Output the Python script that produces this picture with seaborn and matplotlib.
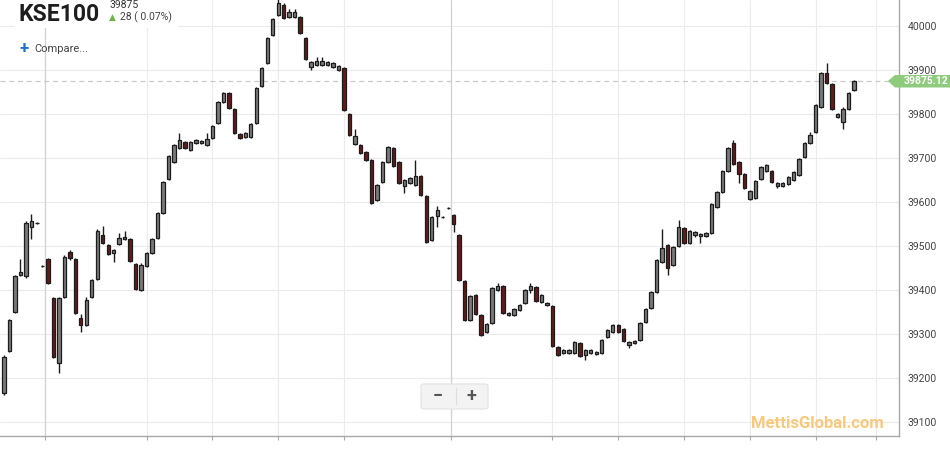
"""KSE100 intraday 5-minute candlestick chart (7/11 - 7/12)."""

import matplotlib

matplotlib.use("Agg")
import matplotlib.pyplot as plt
import numpy as np
import pandas as pd
import seaborn as sns
from matplotlib.patches import FancyBboxPatch, Polygon, Rectangle

# --- data ---------------------------------------------------------------
opens = [
    39166, 39261, 39350, 39434, 39432, 39543, 39552, 39454, 39470, 39382,
    39234, 39384, 39486, 39470, 39336, 39320, 39384, 39425, 39525, 39502,
    39484, 39504, 39516, 39516, 39459, 39400, 39454, 39484, 39518, 39575,
    39652, 39691, 39723, 39736, 39718, 39734, 39734, 39729, 39745, 39779,
    39827, 39848, 39811, 39754, 39748, 39748, 39779, 39864, 39916, 39979,
    40025, 40048, 40020, 40020, 40020, 39973, 39907, 39911, 39911, 39911,
    39907, 39900, 39904, 39800, 39732, 39729, 39714, 39695, 39604, 39645,
    39691, 39723, 39691, 39636, 39643, 39639, 39659, 39614, 39514, 39568,
    39566, 39586, 39570, 39525, 39420, 39332, 39388, 39343, 39304, 39325,
    39400, 39409, 39343, 39343, 39354, 39370, 39400, 39407, 39373, 39366,
    39363, 39270, 39257, 39257, 39257, 39279, 39252, 39257, 39254, 39257,
    39293, 39304, 39320, 39311, 39275, 39279, 39286, 39327, 39359, 39395,
    39464, 39502, 39457, 39500, 39541, 39507, 39525, 39523, 39523, 39529,
    39589, 39623, 39670, 39734, 39691, 39664, 39607, 39609, 39652, 39670,
    39670, 39636, 39636, 39641, 39650, 39661, 39702, 39734, 39759, 39816,
    39893, 39868, 39793, 39782, 39811, 39855,
]
highs = [
    39252, 39334, 39434, 39470, 39557, 39573, 39555, 39456, 39473, 39384,
    39384, 39479, 39491, 39472, 39345, 39384, 39425, 39538, 39545, 39504,
    39493, 39529, 39534, 39518, 39461, 39461, 39486, 39518, 39577, 39648,
    39706, 39731, 39757, 39738, 39738, 39743, 39740, 39757, 39775, 39829,
    39850, 39850, 39813, 39756, 39759, 39779, 39861, 39906, 39975, 40018,
    40062, 40052, 40039, 40039, 40022, 39975, 39920, 39929, 39929, 39920,
    39918, 39911, 39906, 39802, 39766, 39731, 39716, 39697, 39641, 39693,
    39727, 39725, 39693, 39652, 39656, 39695, 39661, 39616, 39568, 39591,
    39568, 39588, 39572, 39527, 39422, 39388, 39390, 39345, 39325, 39406,
    39416, 39411, 39350, 39359, 39368, 39402, 39416, 39409, 39390, 39372,
    39365, 39272, 39265, 39265, 39284, 39281, 39265, 39265, 39261, 39288,
    39311, 39322, 39322, 39313, 39284, 39286, 39327, 39359, 39397, 39470,
    39538, 39504, 39500, 39559, 39543, 39536, 39534, 39529, 39531, 39597,
    39625, 39672, 39725, 39741, 39693, 39666, 39627, 39650, 39681, 39686,
    39672, 39645, 39645, 39659, 39670, 39700, 39736, 39759, 39822, 39895,
    39916, 39870, 39802, 39816, 39850, 39877,
]
lows = [
    39161, 39259, 39348, 39432, 39427, 39516, 39550, 39452, 39413, 39245,
    39211, 39382, 39468, 39345, 39304, 39318, 39382, 39423, 39505, 39480,
    39464, 39502, 39514, 39463, 39400, 39398, 39452, 39482, 39516, 39573,
    39650, 39689, 39721, 39720, 39716, 39732, 39732, 39727, 39743, 39777,
    39825, 39812, 39755, 39743, 39746, 39746, 39777, 39862, 39914, 39977,
    40023, 40016, 40018, 40018, 39982, 39923, 39900, 39909, 39909, 39909,
    39905, 39898, 39807, 39750, 39730, 39709, 39693, 39596, 39602, 39643,
    39689, 39680, 39641, 39620, 39641, 39637, 39614, 39507, 39512, 39543,
    39564, 39584, 39532, 39421, 39330, 39330, 39343, 39296, 39302, 39323,
    39398, 39346, 39341, 39341, 39352, 39368, 39393, 39373, 39371, 39364,
    39271, 39250, 39255, 39255, 39255, 39248, 39241, 39255, 39252, 39255,
    39291, 39302, 39302, 39282, 39268, 39277, 39284, 39325, 39357, 39393,
    39462, 39434, 39455, 39498, 39505, 39505, 39520, 39507, 39521, 39527,
    39587, 39621, 39668, 39684, 39643, 39630, 39605, 39607, 39650, 39668,
    39643, 39632, 39634, 39639, 39648, 39659, 39700, 39732, 39757, 39814,
    39868, 39809, 39791, 39766, 39809, 39853,
]
closes = [
    39248, 39332, 39432, 39441, 39552, 39557, 39552, 39454, 39416, 39248,
    39382, 39475, 39473, 39348, 39320, 39377, 39423, 39534, 39507, 39482,
    39491, 39518, 39520, 39466, 39402, 39457, 39484, 39516, 39575, 39645,
    39704, 39729, 39741, 39723, 39736, 39741, 39738, 39743, 39773, 39827,
    39848, 39814, 39757, 39745, 39757, 39777, 39859, 39904, 39973, 40016,
    40052, 40018, 40032, 40032, 39984, 39925, 39918, 39920, 39920, 39918,
    39916, 39909, 39809, 39752, 39750, 39711, 39695, 39598, 39639, 39691,
    39725, 39682, 39643, 39650, 39654, 39659, 39616, 39509, 39566, 39582,
    39566, 39586, 39550, 39423, 39332, 39386, 39345, 39298, 39323, 39404,
    39409, 39348, 39348, 39357, 39366, 39400, 39409, 39375, 39388, 39370,
    39273, 39252, 39263, 39263, 39282, 39250, 39263, 39263, 39259, 39286,
    39309, 39320, 39304, 39284, 39282, 39284, 39325, 39357, 39395, 39468,
    39495, 39450, 39498, 39543, 39507, 39534, 39532, 39527, 39529, 39595,
    39623, 39670, 39723, 39686, 39664, 39632, 39625, 39648, 39679, 39684,
    39645, 39643, 39643, 39657, 39668, 39698, 39734, 39752, 39820, 39893,
    39870, 39811, 39800, 39811, 39848, 39875.12,
]

last_price = 39875.12
tick_slots = [7.5, 26, 38, 50, 62, 81.5, 100, 112, 124, 136, 148, 159]
tick_labels = ["7/11", "11:00", "12:00", "13:00", "14:00", "7/12",
               "11:00", "12:00", "13:00", "14:00", "15:00", "16:00"]
day_breaks = ["7/11", "7/12"]
price_ticks = list(range(39100, 40001, 100))

# --- style ---------------------------------------------------------------
sns.set_theme(style="whitegrid")
plt.rcParams["font.family"] = ["Roboto", "DejaVu Sans"]

frame = pd.DataFrame({"open": opens, "high": highs, "low": lows, "close": closes})
frame["slot"] = np.arange(len(frame))
frame["rising"] = frame["close"] >= frame["open"]

W, H = 950, 450
fig = plt.figure(figsize=(W / 100, H / 100), dpi=100)
fig.patch.set_facecolor("white")
ax = fig.add_axes([0, 14 / H, 899 / W, 436 / H])
ax.set_facecolor("white")


def px(x, y):
    """Figure pixel (from top-left) to figure fraction."""
    return x / W, 1 - y / H


# wicks and bodies
edge = "#1c1c1c"
ax.vlines(frame["slot"], frame["low"], frame["high"], color=edge, linewidth=1.0, zorder=3)
bottoms = frame[["open", "close"]].min(axis=1)
heights = (frame["close"] - frame["open"]).abs()
colors = np.where(frame["rising"], "#7a7a7a", "#621a1a")
ax.bar(frame["slot"], heights, bottom=bottoms, width=0.62, color=colors,
       edgecolor=edge, linewidth=0.9, zorder=4)

# last price line
ax.axhline(last_price, color="#c9c9c9", linestyle=(0, (4, 3)), linewidth=0.9, zorder=2)

ax.set_xlim(-0.73, 163.2)
ax.set_ylim(39068, 40059)

ax.set_xticks(tick_slots)
ax.set_xticklabels(tick_labels, fontsize=8, color="#555555")
ax.set_yticks(price_ticks)
ax.set_yticklabels([str(v) for v in price_ticks], fontsize=7.5, color="#444444")
ax.yaxis.tick_right()
ax.tick_params(axis="y", length=0, pad=6)
ax.tick_params(axis="x", length=3, width=0.8, color="#aaaaaa", pad=8, bottom=True)

ax.grid(True, color="#ebebeb", linewidth=0.8)
for slot, label in zip(tick_slots, tick_labels):
    if label in day_breaks:
        ax.axvline(slot, color="#d2d2d2", linewidth=0.9, zorder=1)

for side in ("left", "top"):
    ax.spines[side].set_visible(False)
for side in ("right", "bottom"):
    ax.spines[side].set_color("#a8a8a8")
    ax.spines[side].set_linewidth(1.0)

# header block
fig.patches.append(Rectangle(px(15, 28), 163 / W, 28 / H, transform=fig.transFigure,
                             facecolor="white", edgecolor="none", zorder=5))
fig.text(*px(19, 14.5), "KSE100", fontsize=16.5, fontweight="bold", color="#1e1e1e",
         va="center", ha="left", zorder=6)
fig.text(*px(110, 5.5), "39875", fontsize=7.5, color="#333333", va="center", zorder=6)
fig.text(*px(109, 17.5), "\u25b2", fontsize=6.5, color="#6cb24a", va="center", zorder=6,
         family=["DejaVu Sans"])
fig.text(*px(120, 17.5), "28 ( 0.07%)", fontsize=7.5, color="#444444", va="center", zorder=6)
fig.text(*px(19, 48), "+", fontsize=12, fontweight="bold", color="#1f6fd0", va="center")
fig.text(*px(34, 48.5), "Compare...", fontsize=8, color="#444444", va="center")

# last price tag
tag = [px(888, 81), px(895, 75), px(950, 75), px(950, 87.5), px(895, 87.5)]
fig.patches.append(Polygon(tag, closed=True, transform=fig.transFigure,
                           facecolor="#8ecb7d", edgecolor="none", zorder=5))
fig.text(*px(926, 81.5), "39875.12", fontsize=7.5, fontweight="bold", color="white",
         ha="center", va="center", zorder=6)

# zoom buttons
fig.patches.append(FancyBboxPatch(px(421, 409), 67 / W, 25 / H,
                                  boxstyle="round,pad=0,rounding_size=0.004",
                                  transform=fig.transFigure, facecolor="#f3f3f3",
                                  edgecolor="#e2e2e2", linewidth=0.8, zorder=5))
fig.text(*px(438, 396), "\u2212", fontsize=13, fontweight="bold", color="#555555",
         ha="center", va="center", zorder=6)
fig.text(*px(471, 396), "+", fontsize=13, fontweight="bold", color="#555555",
         ha="center", va="center", zorder=6)
fig.lines.append(plt.Line2D([456 / W, 456 / W], [1 - 388 / H, 1 - 404 / H],
                            transform=fig.transFigure, color="#dddddd", linewidth=0.8, zorder=6))

# watermark
fig.text(*px(817, 424), "MettisGlobal.com", fontsize=12, fontweight="bold",
         color="#f7c97f", ha="center", va="center", zorder=6)

fig.savefig("out.png", dpi=100, facecolor="white")
plt.close(fig)
